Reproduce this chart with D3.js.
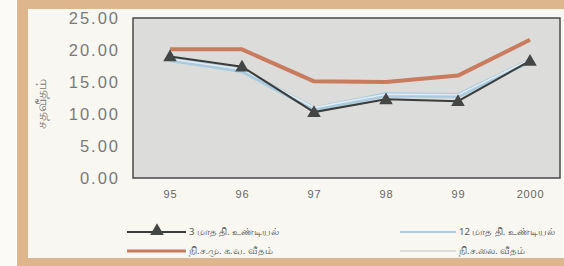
<!DOCTYPE html>
<html>
<head>
<meta charset="utf-8">
<script src="https://cdn.jsdelivr.net/npm/d3@7"></script>
<style>
  body { margin: 0; background: #fbfaf6; }
  svg { display: block; }
</style>
</head>
<body>
<script>
// data
const years = ["95", "96", "97", "98", "99", "2000"];
const threeMonth = [19.0, 17.4, 10.3, 12.3, 12.0, 18.3];
const twelveMonth = [18.5, 16.8, 10.8, 13.0, 12.9, 18.3];
const callRate = [20.1, 20.1, 15.1, 15.0, 16.0, 21.6];     // நி.ச.மு.க.வ.
const lendingRate = [18.6, 17.0, 11.0, 13.1, 13.0, 18.5];  // நி.ச.லை.
const yTicks = [0, 5, 10, 15, 20, 25];
const seriesNames = ["3 மாத தி. உண்டியல்", "12 மாத தி. உண்டியல்", "நி.ச.மு. க.வ. வீதம்", "நி.ச.லை. வீதம்"];

const width = 564, height = 266;
const plot = { left: 133, right: 560, top: 18, bottom: 178 };

const svg = d3.select("body").append("svg")
    .attr("width", width)
    .attr("height", height);

// tan frame
svg.append("rect").attr("x", 17).attr("y", 0).attr("width", width - 17).attr("height", height)
    .attr("fill", "#ddb68e");
svg.append("rect").attr("x", 28).attr("y", 9).attr("width", width - 28).attr("height", 249)
    .attr("fill", "#f8f7f2");

const x = d3.scalePoint().domain(years).range([170, 530]);
const y = d3.scaleLinear().domain([0, 25]).range([plot.bottom, plot.top]);

svg.append("rect")
    .attr("x", plot.left).attr("y", plot.top)
    .attr("width", plot.right - plot.left).attr("height", plot.bottom - plot.top)
    .attr("fill", "#dcdcda").attr("stroke", "#4a4a4a").attr("stroke-width", 1.5);

// axes
const yAxis = svg.append("g")
    .attr("transform", `translate(${plot.left},0)`)
    .call(d3.axisLeft(y).tickValues(yTicks).tickFormat(d3.format(".2f")).tickSize(0).tickPadding(13));
yAxis.select(".domain").remove();
yAxis.selectAll("text")
    .attr("font-family", "Liberation Sans, Arial, sans-serif")
    .attr("font-size", 16.5).attr("letter-spacing", 2).attr("fill", "#7a7a7a");

const xAxis = svg.append("g")
    .attr("transform", `translate(0,${plot.bottom})`)
    .call(d3.axisBottom(x).tickSize(0).tickPadding(12));
xAxis.select(".domain").remove();
xAxis.selectAll("text")
    .attr("font-family", "Liberation Sans, Arial, sans-serif")
    .attr("font-size", 11).attr("letter-spacing", 0.8).attr("fill", "#666");

svg.append("text")
    .attr("transform", "translate(46,104) rotate(-90)")
    .attr("text-anchor", "middle")
    .attr("font-family", "Noto Sans, sans-serif")
    .attr("font-size", 14).attr("fill", "#777")
    .text("சதவீதம்");

// lines
const line = d3.line().x((d, i) => x(years[i])).y(d => y(d));

svg.append("path").datum(twelveMonth).attr("d", line)
    .attr("fill", "none").attr("stroke", "#a9cbe0").attr("stroke-width", 5).attr("stroke-linejoin", "round");
svg.append("path").datum(lendingRate).attr("d", line)
    .attr("fill", "none").attr("stroke", "#e4ecef").attr("stroke-width", 1.5);
svg.append("path").datum(callRate).attr("d", line)
    .attr("fill", "none").attr("stroke", "#c97b5e").attr("stroke-width", 4).attr("stroke-linejoin", "round");
svg.append("path").datum(threeMonth).attr("d", line)
    .attr("fill", "none").attr("stroke", "#3a3d3c").attr("stroke-width", 2);

const tri = d3.symbol().type(d3.symbolTriangle).size(80);
svg.selectAll(".tri").data(threeMonth).join("path")
    .attr("class", "tri")
    .attr("d", tri)
    .attr("transform", (d, i) => `translate(${x(years[i])},${y(d) + 1})`)
    .attr("fill", "#434645");

// legend
const legendItems = [
    { name: seriesNames[0], x: 127, y: 232, color: "#3a3d3c", w: 2, marker: true },
    { name: seriesNames[1], x: 400, y: 232, color: "#a9cbe0", w: 2, marker: false },
    { name: seriesNames[2], x: 127, y: 251, color: "#c97b5e", w: 3, marker: false },
    { name: seriesNames[3], x: 400, y: 251, color: "#dcdcdc", w: 2, marker: false }
];
const lg = svg.selectAll(".lg").data(legendItems).join("g")
    .attr("class", "lg")
    .attr("transform", d => `translate(${d.x},${d.y})`);
lg.append("line").attr("x1", 0).attr("x2", d => d.x < 300 ? 59 : 56)
    .attr("stroke", d => d.color).attr("stroke-width", d => d.w);
lg.filter(d => d.marker).append("path")
    .attr("d", tri).attr("transform", "translate(30,-1)").attr("fill", "#434645");
lg.append("text")
    .attr("x", d => d.x < 300 ? 62 : 59).attr("dy", "0.35em")
    .attr("font-family", "Noto Sans, sans-serif")
    .attr("font-size", 9.5).attr("fill", "#555")
    .text(d => d.name);
</script>
</body>
</html>
